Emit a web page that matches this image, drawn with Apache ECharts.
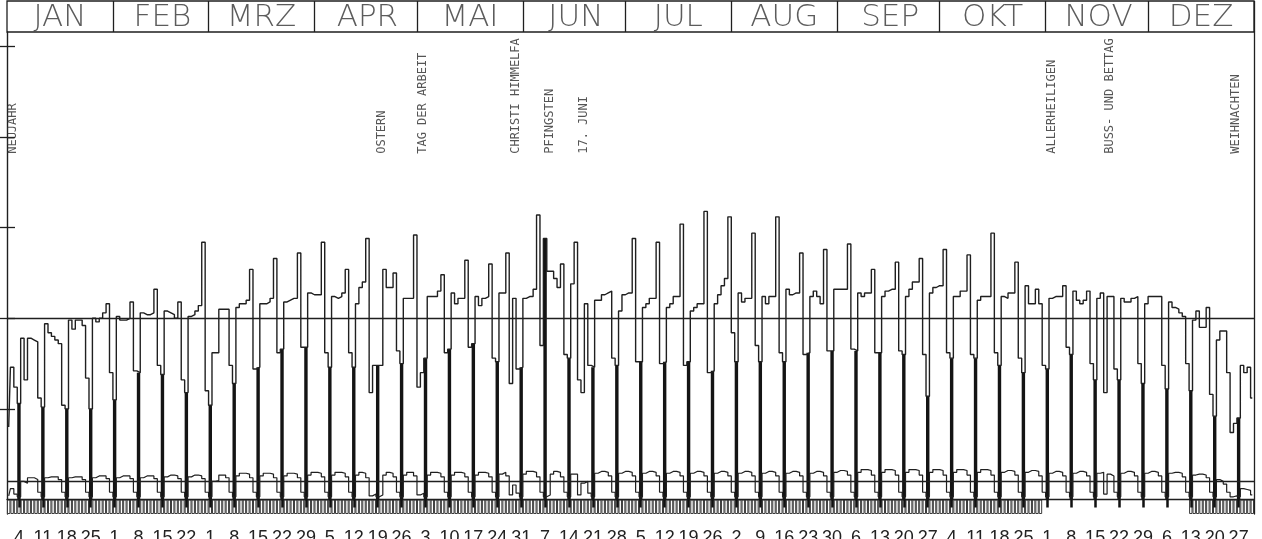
<!DOCTYPE html>
<html><head><meta charset="utf-8">
<script src="https://cdn.jsdelivr.net/npm/echarts@6/dist/echarts.min.js"></script>
<style>html,body{margin:0;padding:0;background:#fff}#c{width:1262px;height:539px}</style>
</head><body><div id="c"></div>
<script>
const monthNames = ['JAN','FEB','MRZ','APR','MAI','JUN','JUL','AUG','SEP','OKT','NOV','DEZ'];
const monthLengths = [31,28,31,30,31,30,31,31,30,31,30,31];
const jan1Weekday = 4; // Thursday (0 = Sunday)

// daily traffic, % of annual mean (Thu 1 Jan ... Thu 31 Dec), rows = Mon..Sun
const traffic = [
  40, 73, 62, 53,
  89, 66, 89, 88, 87, 56, 51,
  97, 92, 90, 88, 86, 52, 50,
  99, 94, 99, 99, 96, 67, 50,
  100, 98, 100, 103, 108, 70, 55,
  101, 99, 99, 100, 109, 71, 70,
  103, 102, 102, 103, 116, 74, 69,
  104, 103, 102, 100, 109, 66, 59,
  101, 102, 104, 107, 142, 60, 52,
  81, 81, 105, 105, 105, 74, 64,
  106, 108, 108, 110, 127, 72, 73,
  108, 108, 109, 111, 133, 81, 83,
  109, 110, 111, 111, 136, 84, 84,
  114, 113, 113, 113, 142, 81, 73,
  112, 111, 112, 114, 127, 81, 73,
  108, 117, 120, 144, 59, 74, 74,
  74, 127, 117, 117, 125, 82, 75,
  111, 111, 111, 146, 62, 70, 78,
  112, 112, 112, 115, 124, 81, 83,
  114, 108, 111, 111, 132, 84, 86,
  112, 107, 111, 112, 130, 78, 76,
  114, 114, 136, 64, 111, 72, 73,
  111, 112, 112, 116, 157, 85, 144,
  126, 126, 122, 117, 130, 80, 78,
  119, 142, 66, 59, 108, 74, 73,
  110, 110, 113, 114, 115, 78, 74,
  104, 113, 114, 114, 144, 76, 76,
  106, 108, 111, 111, 142, 75, 76,
  106, 108, 112, 112, 152, 74, 76,
  104, 106, 108, 108, 159, 70, 71,
  108, 113, 118, 122, 156, 92, 76,
  114, 109, 111, 111, 147, 85, 76,
  112, 108, 112, 112, 156, 81, 76,
  116, 113, 114, 114, 136, 80, 81,
  112, 115, 112, 108, 138, 82, 82,
  116, 116, 116, 116, 141, 83, 82,
  114, 112, 114, 114, 127, 81, 81,
  112, 115, 116, 116, 131, 82, 80,
  112, 116, 120, 120, 133, 80, 57,
  114, 117, 118, 118, 138, 81, 78,
  112, 112, 115, 115, 135, 80, 78,
  110, 112, 112, 112, 147, 81, 74,
  112, 111, 114, 114, 131, 78, 70,
  118, 108, 108, 116, 108, 74, 72,
  111, 112, 112, 112, 118, 84, 80,
  115, 110, 108, 110, 115, 75, 66,
  111, 114, 59, 112, 112, 72, 66,
  111, 109, 109, 111, 112, 75, 64,
  108, 112, 112, 112, 112, 74, 61,
  109, 106, 105, 103, 101, 75, 60,
  99, 104, 95, 95, 106, 58, 46,
  88, 93, 93, 70, 37, 42, 45,
  74, 70, 73, 56
];

// lower daily curve (heavy traffic share, %)
const heavy = [
  2, 6, 3, 1.5,
  10, 9, 12, 12, 11, 4, 1.5,
  12, 12.5, 12.5, 12.5, 11, 4, 1.5,
  12, 12.5, 12.5, 12.5, 11, 4, 1.5,
  12, 13, 13, 13, 11.5, 4, 1.5,
  12, 13, 13, 13, 11.5, 4, 1.5,
  12, 13, 13, 13, 11.5, 4, 1.5,
  12.5, 13.5, 13.5, 13, 11.5, 4, 1.5,
  12.5, 13.5, 13.5, 13, 11.5, 4, 1.5,
  10, 10.5, 13.5, 13.5, 12, 4, 1.5,
  13, 14.5, 14.5, 14, 12, 4, 1.5,
  13, 14.5, 14.5, 14, 12, 4, 1.5,
  13, 14.5, 14.5, 14, 12, 4, 1.5,
  13.5, 15, 15, 14.5, 12.5, 4, 1.5,
  13.5, 15, 15, 14.5, 12.5, 4, 1.5,
  13.5, 15, 14.5, 12, 2, 3, 1.5,
  2.5, 13.5, 15, 14.5, 12.5, 4, 1.5,
  13.5, 15, 15, 13, 2.5, 3.5, 1.5,
  13.5, 15, 15, 14.5, 12.5, 4, 1.5,
  13.5, 15, 15, 14.5, 12.5, 4, 1.5,
  13.5, 15, 15, 14.5, 12.5, 4, 1.5,
  14, 15, 13, 2.5, 8, 3.5, 1.5,
  14, 15.5, 15.5, 15, 12.5, 4, 1.5,
  2.5, 14, 15.5, 15, 12.5, 4, 1.5,
  14, 14, 2.5, 9, 10, 3.5, 1.5,
  14.5, 15.5, 15.5, 15, 13, 4, 1.5,
  14.5, 15.5, 15.5, 15, 13, 4, 1.5,
  14.5, 15.5, 15.5, 15, 13, 4, 1.5,
  14.5, 15.5, 15.5, 15, 13, 4, 1.5,
  14.5, 15.5, 15.5, 15, 13, 4, 1.5,
  14.5, 15.5, 15.5, 15, 13, 4, 1.5,
  14.5, 15.5, 15.5, 15, 13, 4, 1.5,
  14.5, 15.5, 15.5, 15, 13, 4, 1.5,
  14.5, 15.5, 15.5, 15, 13, 4, 1.5,
  14.5, 15.5, 15.5, 15, 13, 4, 1.5,
  15, 16, 16, 15.5, 13.5, 4, 1.5,
  15, 16.5, 16.5, 16, 13.5, 4, 1.5,
  15, 16.5, 16.5, 16, 13.5, 4, 1.5,
  15, 16.5, 16.5, 16, 13.5, 4, 1.5,
  15, 16.5, 16.5, 16, 13.5, 4, 1.5,
  15, 16.5, 16.5, 16, 13.5, 4, 1.5,
  15, 16.5, 16.5, 16, 13.5, 4, 1.5,
  15, 16, 16, 15.5, 13.5, 4, 1.5,
  15, 16, 16, 15.5, 13, 4, 1.5,
  14.5, 15.5, 15.5, 15, 13, 4, 1.5,
  14.5, 15.5, 15.5, 15, 13, 4, 1.5,
  14.5, 15, 3, 14, 13, 4, 1.5,
  14.5, 15.5, 15.5, 15, 13, 4, 1.5,
  14.5, 15.5, 15.5, 15, 13, 4, 1.5,
  14.5, 15, 15, 14.5, 12.5, 4, 1.5,
  13.5, 14, 14, 13.5, 12, 4, 1.5,
  11, 10, 8.5, 4, 1.5, 2, 1.5,
  6, 5.5, 5, 2.5
];

// day ranges (0-based day of year) that carry the counting comb under the baseline
const combRanges = [[0, 302], [346, 364]];

const holidays = [
  {name: 'NEUJAHR', month: 1, day: 1},
  {name: 'OSTERN', month: 4, day: 19},
  {name: 'TAG DER ARBEIT', month: 5, day: 1},
  {name: 'CHRISTI HIMMELFA', month: 5, day: 28},
  {name: 'PFINGSTEN', month: 6, day: 7},
  {name: '17. JUNI', month: 6, day: 17},
  {name: 'ALLERHEILIGEN', month: 11, day: 1},
  {name: 'BUSS- UND BETTAG', month: 11, day: 18},
  {name: 'WEIHNACHTEN', month: 12, day: 25}
];

const yTicks = [50, 100, 150, 200, 250];
const refLines = [100, 10];

if (traffic.length !== 365) throw new Error('traffic length ' + traffic.length);
if (heavy.length !== 365) throw new Error('heavy length ' + heavy.length);

// calendar helpers
const monthStarts = [];
const dayLabels = [];
let acc = 0;
monthLengths.forEach(function (len) {
  monthStarts.push(acc);
  for (let d = 1; d <= len; d++) dayLabels.push(String(d));
  acc += len;
});
function dayIndex(m, d) { return monthStarts[m - 1] + d - 1; }
function isSunday(i) { return (i + jan1Weekday) % 7 === 0; }
function inComb(i) { return combRanges.some(function (r) { return i >= r[0] && i <= r[1]; }); }

const ink = '#1f1f1f';
const dayIdx = dayLabels.map(function (_, i) { return i; });

const chart = echarts.init(document.getElementById('c'), null, {renderer: 'canvas'});
chart.setOption({
  animation: false,
  backgroundColor: '#ffffff',
  grid: [
    {left: 7, right: 8, top: 32, bottom: 25, show: false, containLabel: false, outerBoundsMode: 'none'},
    {left: 7, right: 8, top: 1, height: 31, show: true, borderColor: ink, borderWidth: 1.3, backgroundColor: 'transparent', containLabel: false, outerBoundsMode: 'none'}
  ],
  xAxis: [
    {
      gridIndex: 0, type: 'category', data: dayLabels, boundaryGap: true, z: 5,
      axisLine: {show: true, onZero: true, lineStyle: {color: ink, width: 1.3}},
      axisTick: {show: true, alignWithLabel: true, length: 8, interval: function (i) { return isSunday(i); }, lineStyle: {color: '#111', width: 2.5}},
      axisLabel: {show: true, interval: function (i) { return isSunday(i); }, margin: 15, fontSize: 18,
        fontFamily: "'Liberation Sans',sans-serif", color: '#222'},
      splitLine: {show: false}
    },
    {
      gridIndex: 1, type: 'category', data: dayLabels, boundaryGap: true,
      axisLine: {show: false}, axisTick: {show: false}, axisLabel: {show: false},
      splitLine: {show: true, interval: function (i) { return monthStarts.indexOf(i) > 0; }, lineStyle: {color: ink, width: 1.3}}
    }
  ],
  yAxis: [
    {gridIndex: 0, type: 'value', min: -8, max: 258, position: 'left',
      axisLine: {show: true, lineStyle: {color: ink, width: 1.4}},
      axisTick: {show: true, inside: false, length: 8, customValues: yTicks, lineStyle: {color: ink, width: 1.3}},
      axisLabel: {show: false}, splitLine: {show: false}},
    {gridIndex: 0, type: 'value', min: -8, max: 258, position: 'left',
      axisLine: {show: false},
      axisTick: {show: true, inside: true, length: 8, customValues: yTicks, lineStyle: {color: ink, width: 1.3}},
      axisLabel: {show: false}, splitLine: {show: false}},
    {gridIndex: 0, type: 'value', min: -8, max: 258, position: 'right',
      axisLine: {show: true, lineStyle: {color: ink, width: 1.3}},
      axisTick: {show: false}, axisLabel: {show: false}, splitLine: {show: false}},
    {gridIndex: 1, type: 'value', min: 0, max: 1, show: false}
  ],
  series: [
    {
      name: 'comb', type: 'bar', xAxisIndex: 0, yAxisIndex: 0, silent: true, z: 1,
      barWidth: '100%', barGap: '-100%',
      data: dayIdx.map(function (i) { return inComb(i) ? -8 : '-'; }),
      itemStyle: {color: '#ffffff', borderColor: '#3a3a3a', borderWidth: 1}
    },
    {
      name: 'sundays', type: 'bar', xAxisIndex: 0, yAxisIndex: 0, silent: true, z: 2,
      barWidth: '100%', barGap: '-100%',
      data: dayIdx.map(function (i) { return isSunday(i) ? traffic[i] : '-'; }),
      itemStyle: {color: '#141414'}
    },
    {
      name: 'traffic', type: 'line', step: 'middle', xAxisIndex: 0, yAxisIndex: 0, z: 3,
      symbol: 'none', data: traffic, lineStyle: {color: ink, width: 1.4}
    },
    {
      name: 'heavy', type: 'line', step: 'middle', xAxisIndex: 0, yAxisIndex: 0, z: 3,
      symbol: 'none', data: heavy, lineStyle: {color: ink, width: 1.2},
      markLine: {silent: true, symbol: 'none', label: {show: false},
        lineStyle: {color: ink, width: 1.3, type: 'solid'},
        data: refLines.map(function (v) { return {yAxis: v}; })}
    },
    {
      name: 'holidays', type: 'scatter', xAxisIndex: 0, yAxisIndex: 0, z: 4, silent: true,
      symbolSize: 1, itemStyle: {color: 'rgba(0,0,0,0)'},
      data: holidays.map(function (h) { return [dayIndex(h.month, h.day), 190.5, h.name]; }),
      label: {show: true, formatter: function (p) { return p.data[2]; }, rotate: 90,
        position: [5, 0], align: 'left', verticalAlign: 'middle',
        fontFamily: "'DejaVu Sans Mono',monospace", fontSize: 12, color: '#2a2a2a'}
    },
    {
      name: 'months', type: 'scatter', xAxisIndex: 1, yAxisIndex: 3, silent: true,
      symbolSize: 1, itemStyle: {color: 'rgba(0,0,0,0)'},
      data: monthNames.map(function (n, k) { return [monthStarts[k] + Math.floor(monthLengths[k] / 2), 0.45, n]; }),
      label: {show: true, formatter: function (p) { return p.data[2]; }, position: 'inside',
        align: 'center', verticalAlign: 'middle',
        fontFamily: "'DejaVu Sans',sans-serif", fontWeight: 200, fontSize: 31, color: '#333'}
    }
  ]
});
</script>
</body></html>
